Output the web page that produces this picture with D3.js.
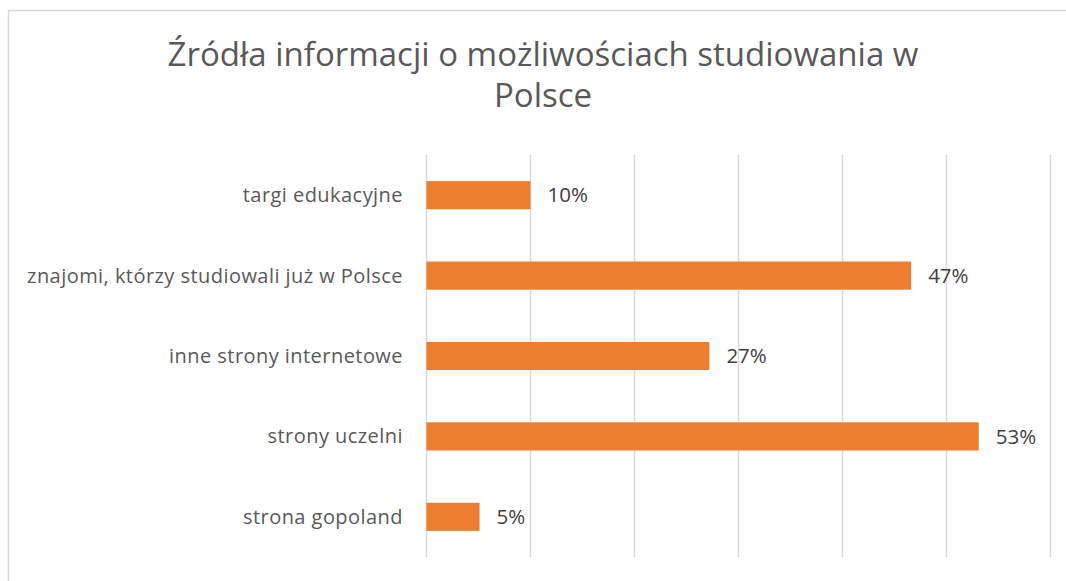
<!DOCTYPE html>
<html>
<head>
<meta charset="utf-8">
<script src="https://cdn.jsdelivr.net/npm/d3@7"></script>
<style>
  body { margin: 0; background: #fff; }
  text { font-family: "Open Sans", Lato, sans-serif; }
</style>
</head>
<body>
<div id="chart"></div>
<script>
// chart data
var titleLines = ["Źródła informacji o możliwościach studiowania w", "Polsce"];
var categories = ["targi edukacyjne", "znajomi, którzy studiowali już w Polsce", "inne strony internetowe", "strony uczelni", "strona gopoland"];
var values = [0.10, 0.466, 0.272, 0.531, 0.051];
var valueLabels = ["10%", "47%", "27%", "53%", "5%"];
var gridTicks = [0, 0.1, 0.2, 0.3, 0.4, 0.5, 0.6];

var width = 1066, height = 581;
var margin = {top: 155, right: 15, bottom: 24, left: 426.5};

var svg = d3.select("#chart").append("svg")
    .attr("width", width)
    .attr("height", height);

// outer chart frame (runs off the right / bottom edge)
svg.append("rect")
    .attr("x", 8.5).attr("y", 10.5)
    .attr("width", 1100).attr("height", 620)
    .attr("fill", "#fff")
    .attr("stroke", "#d9d9d9")
    .attr("stroke-width", 1.5);

var x = d3.scaleLinear()
    .domain([0, 0.6])
    .range([margin.left, 1050.5]);

var y = d3.scaleBand()
    .domain(categories)
    .range([margin.top, height - margin.bottom])
    .paddingInner(0.65)
    .paddingOuter(0.325);

// vertical gridlines
svg.append("g")
  .selectAll("line")
  .data(gridTicks)
  .join("line")
    .attr("x1", function(d){ return x(d); })
    .attr("x2", function(d){ return x(d); })
    .attr("y1", margin.top)
    .attr("y2", height - margin.bottom)
    .attr("stroke", "#d9d9d9")
    .attr("stroke-width", 1.5);

// title
svg.append("g")
  .selectAll("text")
  .data(titleLines)
  .join("text")
    .attr("x", 543)
    .attr("y", function(d, i){ return 66 + i * 41; })
    .attr("text-anchor", "middle")
    .style("font-size", "33px")
    .style("fill", "#595959")
    .text(function(d){ return d; });

var rows = categories.map(function(c, i){
    return {cat: c, value: values[i], label: valueLabels[i]};
});

// bars
svg.append("g")
  .selectAll("rect")
  .data(rows)
  .join("rect")
    .attr("x", x(0))
    .attr("y", function(d){ return y(d.cat); })
    .attr("width", function(d){ return x(d.value) - x(0); })
    .attr("height", y.bandwidth())
    .attr("fill", "#ed7d31");

// category labels
svg.append("g")
  .selectAll("text")
  .data(rows)
  .join("text")
    .attr("x", 403)
    .attr("y", function(d){ return y(d.cat) + y.bandwidth()/2; })
    .attr("dy", "0.35em")
    .attr("text-anchor", "end")
    .style("font-size", "20px")
    .style("letter-spacing", "0.45px")
    .style("fill", "#595959")
    .text(function(d){ return d.cat; });

// value labels
svg.append("g")
  .selectAll("text")
  .data(rows)
  .join("text")
    .attr("x", function(d){ return x(d.value) + 17; })
    .attr("y", function(d){ return y(d.cat) + y.bandwidth()/2; })
    .attr("dy", "0.35em")
    .style("font-size", "20.5px")
    .style("fill", "#404040")
    .text(function(d){ return d.label; });
</script>
</body>
</html>
